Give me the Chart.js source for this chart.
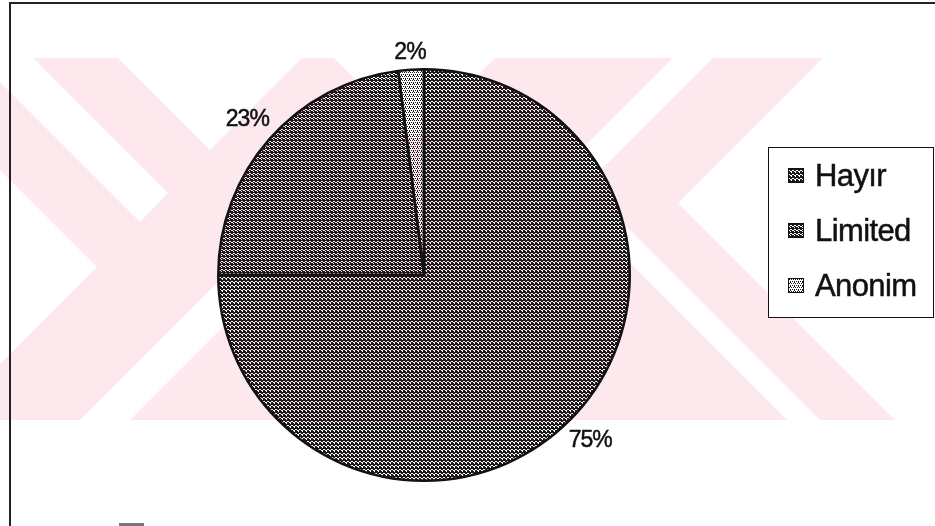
<!DOCTYPE html>
<html>
<head>
<meta charset="utf-8">
<script src="https://cdn.jsdelivr.net/npm/chart.js@4.4.1/dist/chart.umd.min.js"></script>
<style>
    html, body { margin: 0; padding: 0; background: #fff; }
    #wrap { position: relative; width: 935px; height: 526px; overflow: hidden; font-family: "Liberation Sans", Arial, sans-serif; }
    #frame { position: absolute; left: 9px; top: 2px; right: -5px; bottom: -5px; border-left: 2px solid #222; border-top: 2px solid #222; }
    #pie { position: absolute; left: 0; top: 0; }
    #legend { position: absolute; left: 768px; top: 147px; width: 164px; height: 169px; border: 1.5px solid #111; background: #fff; }
    .row { height: 55px; display: flex; align-items: center; padding-left: 19px; font-size: 31px; color: #111; letter-spacing: -0.6px; -webkit-text-stroke: 0.5px #111; }
    .row canvas { border: 1px solid #111; margin-right: 11px; }
    #stub { position: absolute; left: 119px; top: 523px; width: 25px; height: 4px; background: #777; }
</style>
</head>
<body>
<div id="wrap">
    <canvas id="pie" width="935" height="526"></canvas>
    <div id="frame"></div>
    <div id="legend"></div>
    <div id="stub"></div>
</div>
<script>
// dilim verileri (Excel sırası: saat 12'den saat yönünde)
const labels = ["Hayır", "Limited", "Anonim"];
const values = [75, 23, 2];

// desen dokuları - '#' koyu piksel, '.' saydam
const tiles = [
    ["####", ".##.", "#..#", "##.#"],
    ["####", "#..#", ".##.", "#.##"],
    ["#.#.", "....", ".#.#", ".#.."]
];

function makePattern(ctx, rows) {
    const c = document.createElement('canvas');
    c.width = rows[0].length; c.height = rows.length;
    const g = c.getContext('2d');
    g.fillStyle = '#1c1719';
    rows.forEach((r, y) => [...r].forEach((ch, x) => { if (ch === '#') g.fillRect(x, y, 1, 1); }));
    return ctx.createPattern(c, 'repeat');
}

const ctx = document.getElementById('pie').getContext('2d');
const patterns = tiles.map(t => makePattern(ctx, t));

// taranmış sayfadaki pembe filigran
const watermark = {
    id: 'watermark',
    beforeDraw(chart) {
        const g = chart.ctx;
        g.save();
        g.beginPath(); g.rect(0, 58, 935, 362); g.clip();
        g.fillStyle = '#fce8ed';
        g.fillRect(0, 58, 935, 362);
        g.fillStyle = '#fff';
        const polys = [
            [[0, 58], [33, 58], [168, 193], [140, 222], [0, 82]],
            [[118, 58], [302, 58], [210, 150]],
            [[334, 58], [495, 58], [414, 139]],
            [[0, 170], [97, 267], [0, 364]],
            [[80, 420], [130, 420], [270, 280], [220, 280]],
            [[673, 58], [713, 58], [568, 203], [528, 203]],
            [[823, 58], [935, 58], [935, 420], [895, 420], [678, 203]],
            [[787, 420], [820, 420], [603, 203], [570, 203]]
        ];
        polys.forEach(p => {
            g.beginPath();
            p.forEach(([x, y], i) => i ? g.lineTo(x, y) : g.moveTo(x, y));
            g.closePath(); g.fill();
        });
        g.restore();
    }
};

// dış etiketler (yüzde)
const outLabels = {
    id: 'outLabels',
    afterDatasetsDraw(chart) {
        const g = chart.ctx;
        const meta = chart.getDatasetMeta(0);
        const total = values.reduce((a, b) => a + b, 0);
        g.save();
        g.font = '23px "Liberation Sans", Arial, sans-serif';
        g.letterSpacing = '-1px';
        g.fillStyle = '#111';
        g.strokeStyle = '#111';
        g.lineWidth = 0.5;
        g.textAlign = 'center';
        g.textBaseline = 'middle';
        meta.data.forEach((arc, i) => {
            const p = arc.getProps(['x', 'y', 'startAngle', 'endAngle', 'outerRadius'], true);
            const mid = (p.startAngle + p.endAngle) / 2;
            const txt = Math.round(values[i] / total * 100) + '%';
            const w = g.measureText(txt).width, h = 17;
            const d = p.outerRadius + 8 + Math.abs(Math.cos(mid)) * w / 2 + Math.abs(Math.sin(mid)) * h / 2;
            const x = p.x + Math.cos(mid) * d, y = p.y + Math.sin(mid) * d;
            g.fillText(txt, x, y);
            g.strokeText(txt, x, y);
        });
        g.restore();
    }
};

new Chart(ctx, {
    type: 'pie',
    data: {
        labels: labels,
        datasets: [{
            data: values,
            backgroundColor: patterns,
            borderColor: '#111',
            borderWidth: 2.5
        }]
    },
    options: {
        responsive: false,
        animation: false,
        layout: { padding: { left: 216, right: 303, top: 68, bottom: 44 } },
        plugins: { legend: { display: false }, tooltip: { enabled: false } }
    },
    plugins: [watermark, outLabels]
});

// açıklama kutusu
const legendEl = document.getElementById('legend');
labels.forEach((name, i) => {
    const row = document.createElement('div');
    row.className = 'row';
    const sw = document.createElement('canvas');
    sw.width = 14; sw.height = 13;
    const sg = sw.getContext('2d');
    sg.fillStyle = '#fff'; sg.fillRect(0, 0, 14, 13);
    sg.fillStyle = makePattern(sg, tiles[i]); sg.fillRect(0, 0, 14, 13);
    row.appendChild(sw);
    const span = document.createElement('span');
    span.textContent = name;
    row.appendChild(span);
    legendEl.appendChild(row);
});
</script>
</body>
</html>
